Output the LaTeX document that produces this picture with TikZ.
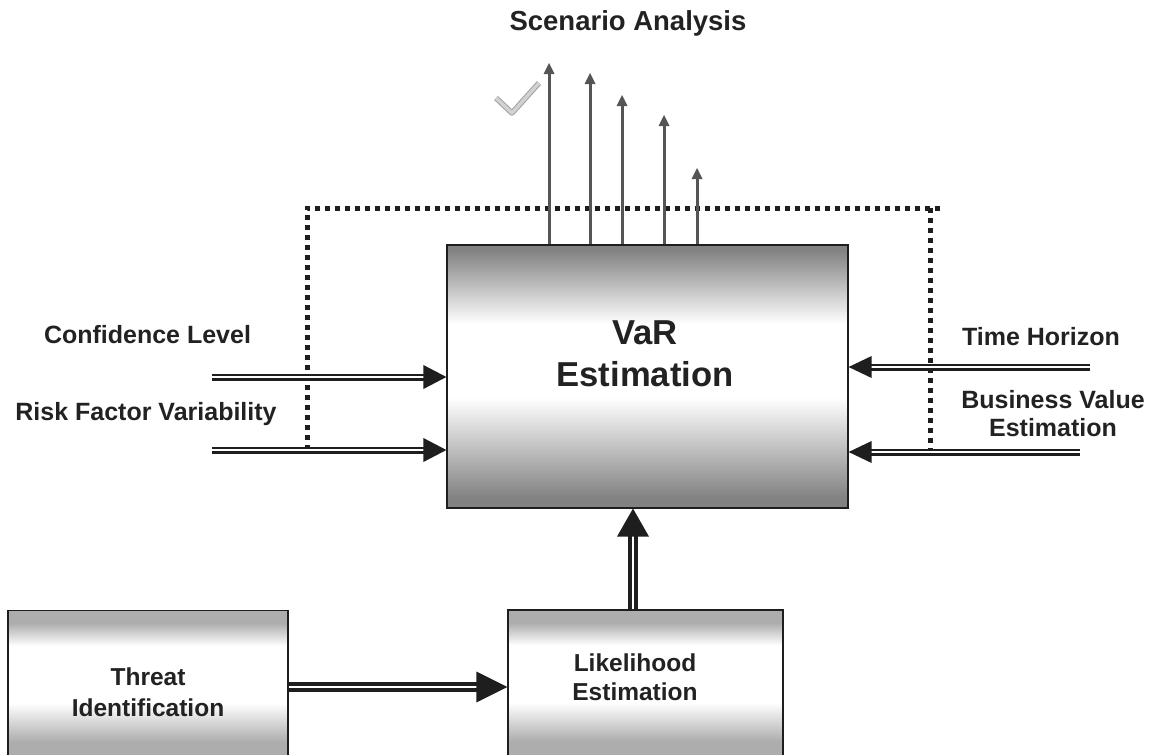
\documentclass[tikz,border=0pt]{standalone}
\usepackage{fontspec}
\setmainfont{Liberation Sans}
\usetikzlibrary{calc,arrows.meta}

\definecolor{ink}{HTML}{1E1E1E}
\definecolor{txt}{HTML}{222222}
\definecolor{scen}{HTML}{555555}
\definecolor{bigshade}{HTML}{828282}
\definecolor{smallshade}{HTML}{ADADAD}

% grey at top and bottom, white band across the middle
% (the path's extent is mapped onto 25bp..75bp of the shading)
\pgfdeclareverticalshading{varshade}{100bp}{color(0bp)=(bigshade); color(25bp)=(bigshade); color(27bp)=(bigshade); color(46bp)=(white); color(60bp)=(white); color(74bp)=(bigshade); color(75bp)=(bigshade); color(100bp)=(bigshade)}
\pgfdeclareverticalshading{stepshade}{100bp}{color(0bp)=(smallshade); color(25bp)=(smallshade); color(34bp)=(smallshade); color(46bp)=(white); color(64bp)=(white); color(71bp)=(smallshade); color(75bp)=(smallshade); color(100bp)=(smallshade)}

% double-lined shaft with a solid triangular head
% #1 start, #2 tip, #3 head length, #4 half head width, #5 shaft style
\newcommand\fatarrow[5]{%
  \draw[#5, shorten >=#3-2pt] (#1) -- (#2);
  \path ($(#2)!#3!(#1)$) coordinate (hb);
  \fill[ink] (#2) -- ($(hb)!#4!90:(#2)$) -- ($(hb)!#4!-90:(#2)$) -- cycle;
}

\tikzset{
  bigbox/.style={draw=ink, line width=1.2pt, shade, shading=varshade,
    minimum width=401pt, minimum height=263pt, inner sep=0pt},
  stepbox/.style={draw=ink, line width=1.2pt, shade, shading=stepshade,
    minimum height=160pt, inner sep=0pt},
  lbl/.style={font=\fontsize{25}{28}\selectfont\bfseries, text=txt, align=center, inner sep=0pt},
  boxtext/.style={font=\fontsize{24.5}{30}\selectfont\bfseries, text=txt, align=center, inner sep=0pt},
  inshaft/.style={draw=ink, line width=2.8pt, double=white, double distance=1.4pt},
  flowshaft/.style={draw=ink, line width=3.6pt, double=white, double distance=2pt},
  frame/.style={draw=ink, line width=5pt, dash pattern=on 5pt off 5pt},
  scenarrow/.style={draw=scen, line width=3pt, -{Triangle[length=11pt,width=11pt,line width=0pt]}},
  check/.style={draw=gray!75, line width=1pt, double=gray!35, double distance=3.5pt, line join=round},
}

\begin{document}
\begin{tikzpicture}[x=1pt,y=-1pt]
\useasboundingbox (0,0) rectangle (1149,755);
\clip (0,0) rectangle (1149,755);

% blocks
\node[bigbox] (var) at (647.5,376.5) {};
\node[stepbox, minimum width=280pt] (thr) at (148,690.5) {};
\node[stepbox, minimum width=275pt] (lik) at (645.5,690) {};

% dotted frame around the estimation block
\coordinate (fl) at (307,208);
\coordinate (fr) at (930,208);
\coordinate (fe) at (940,208);
\coordinate (cl0) at (212,377);
\coordinate (rf0) at (212,450);
\coordinate (th0) at (1090,367);
\coordinate (bv0) at (1080,452);
\draw[frame] (fl |- rf0) -- (fl) -- (fe);
\draw[frame] (fr) -- (fr |- bv0);

% inputs
\coordinate (cl1) at (var.west |- cl0);
\coordinate (rf1) at (var.west |- rf0);
\coordinate (th1) at (var.east |- th0);
\coordinate (bv1) at (var.east |- bv0);
\fatarrow{cl0}{cl1}{23pt}{12pt}{inshaft}
\fatarrow{rf0}{rf1}{23pt}{12pt}{inshaft}
\fatarrow{th0}{th1}{23pt}{11pt}{inshaft}
\fatarrow{bv0}{bv1}{23pt}{11pt}{inshaft}

% process flow
\coordinate (ti0) at ([yshift=3.5pt]thr.east);
\coordinate (ti1) at (lik.west |- ti0);
\coordinate (le0) at ([xshift=-12.5pt]lik.north);
\coordinate (le1) at (var.south -| le0);
\fatarrow{ti0}{ti1}{31pt}{15.5pt}{flowshaft}
\fatarrow{le0}{le1}{28pt}{16pt}{flowshaft}

% scenario outputs
\foreach \n/\x/\y in {1/549/63, 2/590/73, 3/622/95, 4/664/115, 5/697/168} {
  \coordinate (sa\n) at (\x,\y);
  \draw[scenarrow] (var.north -| sa\n) -- (sa\n);
}
\draw[check] (496,98) -- (512,113) -- (539,83);

% texts
\node[boxtext, font=\fontsize{34.6}{42}\selectfont\bfseries] (vart) at (645,354) {VaR\\Estimation};
\node[boxtext, font=\fontsize{24.5}{31}\selectfont\bfseries] (thrt) at (148,692) {Threat\\Identification};
\node[boxtext, font=\fontsize{24.5}{29}\selectfont\bfseries] (likt) at (635,677.5) {Likelihood\\Estimation};

\node[lbl, font=\fontsize{27.5}{30}\selectfont\bfseries] (scn) at (628,23) {Scenario Analysis};
\node[lbl] (conf) at (147.5,335) {Confidence Level};
\node[lbl] (rfv) at (146,414) {Risk Factor Variability};
\node[lbl] (thz) at (1041,337) {Time Horizon};
\node[lbl] (bve) at (1053,414) {Business Value\\Estimation};
\end{tikzpicture}
\end{document}
